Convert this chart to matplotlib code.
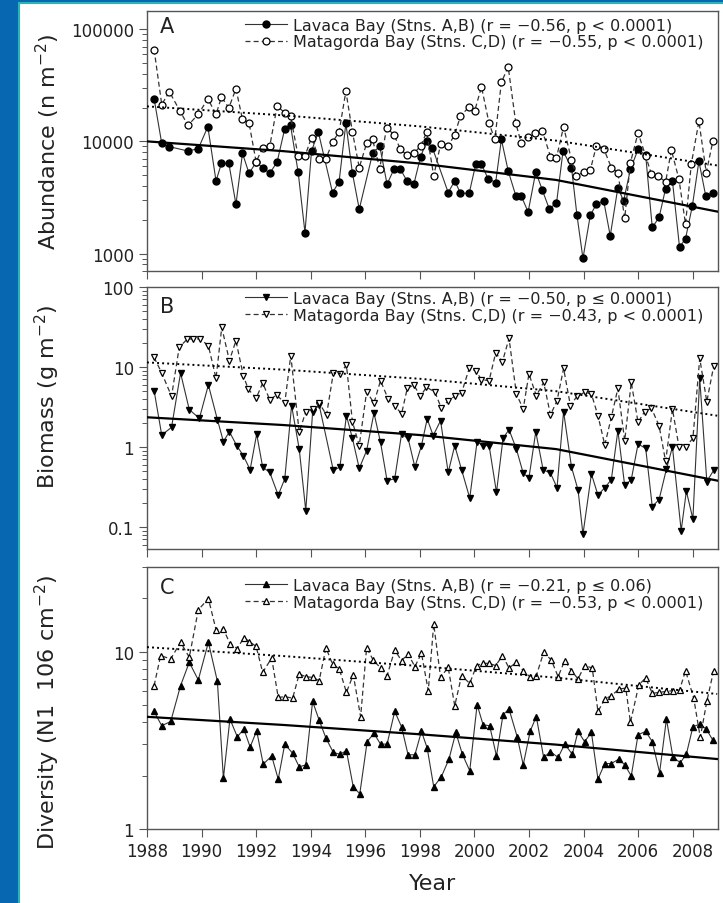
import numpy as np
import matplotlib
matplotlib.use('Agg')
import matplotlib.pyplot as plt
from matplotlib.patches import Rectangle
from matplotlib.ticker import LogLocator, NullFormatter

plt.rcParams['font.family'] = 'DejaVu Sans'

# ---- Panel A: abundance (n m-2) ----
yrA_lav = [1988.26, 1988.54, 1988.82, 1989.50, 1989.88, 1990.23, 1990.53, 1990.73, 1991.00, 1991.26,
           1991.50, 1991.74, 1992.00, 1992.24, 1992.50, 1992.77, 1993.05, 1993.26, 1993.54, 1993.79,
           1994.03, 1994.28, 1994.80, 1995.04, 1995.29, 1995.53, 1995.78, 1996.27, 1996.53, 1996.80,
           1997.05, 1997.29, 1997.53, 1997.78, 1998.03, 1998.25,
           1998.46, 1999.04, 1999.28, 1999.49, 1999.81, 2000.05, 2000.26, 2000.50, 2000.78, 2000.99,
           2001.24, 2001.52, 2001.72, 2001.97, 2002.25, 2002.49, 2002.74, 2003.01, 2003.25, 2003.56,
           2003.76, 2003.98, 2004.25, 2004.47, 2004.74, 2004.98, 2005.26, 2005.47, 2005.72, 2006.00,
           2006.28, 2006.52, 2006.77, 2007.01, 2007.26, 2007.52, 2007.74, 2007.99, 2008.23, 2008.48,
           2008.74]
abA_lav = [24000, 9600, 8970, 8200, 8610, 13500, 4440, 6370, 6370, 2750,
           7820, 5200, 6500, 5840, 5200, 6550, 13000, 13900, 5330, 1540,
           8200, 12100, 3500, 4350, 14450, 5200, 2490, 7820, 9080, 4150,
           5640, 5640, 4440, 4150, 7310, 10000,
           8800, 3500, 4440, 3450, 3450, 6250, 6250, 4660, 4300, 10400,
           5450, 3270, 3250, 2350, 5330, 3690, 2520, 2810, 8200, 5840,
           2200, 906, 2200, 2750, 2950, 1440, 3870, 2950, 5640, 8490,
           7500, 1710, 2100, 3800, 4440, 1140, 1360, 2660, 6650, 3270,
           3450]
yrA_mat = [1988.26, 1988.54, 1988.82, 1989.21, 1989.50, 1989.88, 1990.23, 1990.53, 1990.73, 1991.00,
           1991.26, 1991.50, 1991.74, 1992.00, 1992.24, 1992.50, 1992.77, 1993.05, 1993.26, 1993.54,
           1993.79, 1994.03, 1994.31, 1994.56, 1994.80, 1995.04, 1995.29, 1995.53, 1995.78, 1996.05,
           1996.27, 1996.53, 1996.78, 1997.05, 1997.29, 1997.53, 1997.78, 1998.03, 1998.25,
           1998.51, 1998.76, 1999.04, 1999.28, 1999.49, 1999.81, 2000.01, 2000.26, 2000.54, 2000.75,
           2000.99, 2001.24, 2001.52, 2001.72, 2001.97, 2002.21, 2002.49, 2002.79, 2003.01, 2003.27,
           2003.56, 2003.74, 2004.01, 2004.25, 2004.47, 2004.74, 2005.02, 2005.26, 2005.51, 2005.72,
           2006.00, 2006.28, 2006.49, 2006.73, 2007.01, 2007.22, 2007.50, 2007.74, 2007.95, 2008.23,
           2008.50, 2008.74]
abA_mat = [65800, 21300, 27700, 18600, 13900, 17400, 24000, 17400, 24800, 19900,
           29400, 15700, 14600, 6550, 8800, 9080, 20600, 18000, 16800, 7400,
           7400, 10800, 7000, 7000, 9860, 12100, 28000, 12100, 5840, 9600,
           10400, 5710, 13200, 11500, 8490, 7520, 7820, 9080, 12100,
           4920, 9400, 9080, 11500, 16800, 20300, 18600, 30600, 14450, 10400,
           33600, 46100, 14450, 9600, 11000, 11900, 12400, 7310, 7160, 13500,
           6820, 4920, 5330, 5560, 9080, 8610, 5840, 5270, 2060, 6470,
           11900, 7400, 5090, 4920, 4350, 8370, 4590, 1830, 6250, 15100,
           5270, 10000]

# ---- Panel B: biomass (g m-2) ----
yrB_lav = [1988.26, 1988.54, 1988.90, 1989.23, 1989.55, 1989.92, 1990.25, 1990.58, 1990.80, 1991.02,
           1991.29, 1991.53, 1991.78, 1992.02, 1992.24, 1992.50, 1992.81, 1993.05, 1993.30, 1993.58,
           1993.82, 1994.07, 1994.31, 1994.83, 1995.07, 1995.31, 1995.53, 1995.78, 1996.05, 1996.32,
           1996.56, 1996.80, 1997.08, 1997.33, 1997.57, 1997.82, 1998.06, 1998.27,
           1998.49, 1998.76, 1999.04, 1999.28, 1999.53, 1999.83, 2000.10, 2000.30, 2000.54, 2000.81,
           2001.05, 2001.27, 2001.54, 2001.79, 2002.00, 2002.25, 2002.52, 2002.79, 2003.03, 2003.27,
           2003.56, 2003.80, 2003.98, 2004.29, 2004.53, 2004.78, 2005.02, 2005.26, 2005.51, 2005.75,
           2006.00, 2006.28, 2006.52, 2006.77, 2007.04, 2007.26, 2007.58, 2007.77, 2008.01, 2008.26,
           2008.52, 2008.77]
bmB_lav = [5.06, 1.41, 1.76, 8.4, 2.93, 2.28, 5.96, 2.2, 1.17, 1.55,
           1.04, 0.78, 0.52, 1.45, 0.56, 0.48, 0.25, 0.4, 3.29, 0.94,
           0.16, 2.71, 3.35, 0.51, 0.56, 2.46, 1.28, 0.54, 0.9, 2.66,
           1.14, 0.38, 0.4, 1.45, 1.28, 0.56, 1.04, 2.24,
           1.39, 2.13, 0.48, 1.04, 0.52, 0.23, 1.17, 1.04, 1.04, 0.27,
           1.28, 1.65, 0.94, 0.47, 0.41, 1.55, 0.52, 0.47, 0.31, 2.77,
           0.56, 0.29, 0.081, 0.46, 0.25, 0.31, 0.39, 1.6, 0.33, 0.39,
           1.09, 0.96, 0.18, 0.22, 0.53, 1.0, 0.09, 0.28, 0.126, 7.2,
           0.37, 0.51]
yrB_mat = [1988.26, 1988.54, 1988.90, 1989.18, 1989.48, 1989.70, 1989.94, 1990.25, 1990.53, 1990.74,
           1991.02, 1991.26, 1991.53, 1991.71, 1992.00, 1992.24, 1992.50, 1992.75, 1993.05, 1993.27,
           1993.58, 1993.82, 1994.07, 1994.31, 1994.58, 1994.83, 1995.07, 1995.31, 1995.53, 1995.78,
           1996.05, 1996.32, 1996.56, 1996.84, 1997.08, 1997.33, 1997.54, 1997.78, 1998.02, 1998.24,
           1998.55, 1998.79, 1999.04, 1999.28, 1999.53, 1999.81, 2000.05, 2000.26, 2000.54, 2000.78,
           2001.03, 2001.27, 2001.54, 2001.79, 2002.00, 2002.27, 2002.54, 2002.79, 2003.03, 2003.27,
           2003.52, 2003.76, 2004.04, 2004.29, 2004.53, 2004.78, 2005.02, 2005.26, 2005.51, 2005.75,
           2006.00, 2006.24, 2006.49, 2006.77, 2007.01, 2007.26, 2007.50, 2007.74, 2008.01, 2008.26,
           2008.52, 2008.77]
bmB_mat = [13.2, 8.4, 4.3, 17.6, 22.4, 22.4, 22.4, 18.5, 7.2, 31.3,
           12.0, 21.3, 7.8, 5.3, 4.06, 6.3, 3.9, 4.47, 3.55, 13.9,
           1.52, 2.77, 2.98, 3.55, 2.51, 8.4, 8.2, 10.6, 2.07, 1.04,
           4.9, 3.55, 6.75, 3.98, 3.29, 2.59, 5.4, 5.96, 4.3, 5.57,
           4.9, 3.04, 3.8, 4.3, 4.73, 9.6, 9.0, 6.95, 6.75, 15.0,
           11.7, 22.8, 4.6, 2.98, 8.2, 4.38, 6.43, 2.51, 3.8, 9.6,
           3.29, 4.3, 4.82, 4.6, 2.46, 1.06, 2.35, 5.4, 1.2, 6.43,
           2.03, 2.77, 3.04, 1.85, 0.66, 2.98, 1.0, 1.0, 1.28, 12.8,
           3.69, 10.2]

# ---- Panel C: diversity (N1) ----
yrC_lav = [1988.26, 1988.54, 1988.87, 1989.23, 1989.55, 1989.88, 1990.25, 1990.58, 1990.80, 1991.04,
           1991.31, 1991.55, 1991.78, 1992.02, 1992.26, 1992.57, 1992.81, 1993.05, 1993.34, 1993.58,
           1993.82, 1994.07, 1994.31, 1994.56, 1994.83, 1995.07, 1995.31, 1995.56, 1995.80, 1996.07,
           1996.32, 1996.56, 1996.80, 1997.08, 1997.33, 1997.57, 1997.82, 1998.06, 1998.27,
           1998.51, 1998.79, 1999.07, 1999.32, 1999.56, 1999.83, 2000.10, 2000.32, 2000.56, 2000.81,
           2001.05, 2001.27, 2001.57, 2001.79, 2002.05, 2002.27, 2002.54, 2002.79, 2003.07, 2003.31,
           2003.59, 2003.80, 2004.04, 2004.29, 2004.53, 2004.78, 2005.02, 2005.30, 2005.51, 2005.75,
           2006.00, 2006.28, 2006.52, 2006.79, 2007.04, 2007.28, 2007.55, 2007.77, 2008.01, 2008.26,
           2008.50, 2008.74]
dvC_lav = [4.6, 3.82, 4.04, 6.43, 8.7, 6.92, 11.3, 6.8, 1.93, 4.17,
           3.31, 3.66, 2.9, 3.58, 2.32, 2.58, 1.91, 3.01, 2.67, 2.24,
           2.3, 5.24, 4.11, 3.25, 2.7, 2.64, 2.76, 1.73, 1.58, 3.11,
           3.46, 3.01, 3.01, 4.6, 3.77, 2.62, 2.62, 3.55, 2.86,
           1.73, 1.97, 2.48, 3.5, 2.64, 2.13, 5.02, 3.87, 3.82, 2.58,
           4.41, 4.74, 3.31, 2.3, 3.58, 4.3, 2.53, 2.73, 2.53, 3.01,
           2.64, 3.55, 3.11, 3.5, 1.91, 2.34, 2.34, 2.48, 2.3, 1.99,
           3.4, 3.55, 3.11, 2.08, 4.17, 2.53, 2.37, 2.64, 3.77, 3.9,
           3.66, 3.17]
yrC_mat = [1988.26, 1988.50, 1988.87, 1989.23, 1989.55, 1989.88, 1990.25, 1990.53, 1990.80, 1991.04,
           1991.31, 1991.55, 1991.75, 1992.00, 1992.24, 1992.57, 1992.81, 1993.05, 1993.34, 1993.58,
           1993.82, 1994.07, 1994.31, 1994.56, 1994.80, 1995.05, 1995.31, 1995.56, 1995.83, 1996.05,
           1996.29, 1996.56, 1996.80, 1997.08, 1997.33, 1997.57, 1997.82, 1998.06, 1998.31,
           1998.51, 1998.76, 1999.04, 1999.28, 1999.53, 1999.83, 2000.08, 2000.30, 2000.54, 2000.78,
           2001.03, 2001.27, 2001.54, 2001.79, 2002.03, 2002.27, 2002.54, 2002.82, 2003.07, 2003.31,
           2003.56, 2003.80, 2004.04, 2004.32, 2004.53, 2004.78, 2005.02, 2005.30, 2005.55, 2005.72,
           2006.03, 2006.28, 2006.52, 2006.77, 2007.04, 2007.28, 2007.52, 2007.74, 2008.04, 2008.28,
           2008.52, 2008.77]
dvC_mat = [6.43, 9.49, 9.1, 11.3, 9.29, 17.2, 19.9, 13.3, 13.4, 11.1,
           10.4, 12.0, 11.4, 10.7, 7.64, 9.2, 5.52, 5.57, 5.47, 7.48,
           7.22, 7.16, 6.86, 10.5, 8.51, 7.98, 5.89, 7.41, 4.3, 10.5,
           8.97, 8.09, 7.32, 10.2, 8.9, 9.7, 8.23, 9.79, 6.02,
           14.3, 7.16, 8.15, 4.95, 7.32, 6.62, 8.34, 8.59, 8.59, 8.34,
           9.49, 8.09, 8.7, 7.81, 7.22, 7.32, 9.9, 8.97, 7.22, 8.9,
           7.81, 7.01, 8.34, 8.09, 4.6, 5.4, 5.64, 6.15, 6.23, 3.99,
           6.51, 7.1, 5.82, 5.89, 5.97, 6.02, 6.07, 7.81, 5.47, 3.28,
           5.24, 7.81]

# regression lines, read at a few years
trend_yr = [1988.0, 1993.0, 1998.0, 2003.0, 2008.9]
trendA_lav = [10000, 8180, 6350, 4530, 2370]
trendA_mat = [20500, 17050, 13600, 10150, 6100]
trendB_lav = [2.35, 1.88, 1.41, 0.94, 0.38]
trendB_mat = [11.4, 9.26, 7.12, 4.98, 2.46]
trendC_lav = [4.29, 3.86, 3.42, 2.99, 2.48]
trendC_mat = [10.6, 9.44, 8.29, 7.13, 5.77]

year_ticks = list(range(1988, 2009, 2))

W, H = 723, 904
fig = plt.figure(figsize=(W / 100, H / 100), dpi=100, facecolor='#0767b1')
fig.add_artist(Rectangle((19 / W, -0.01), 1.0, 1 - 4 / H + 0.01, transform=fig.transFigure,
                         facecolor='white', edgecolor='#2bb3b5', lw=1.5, zorder=0))

L, R = 147, 718
def px_axes(top, bottom):
    return fig.add_axes([L / W, 1 - bottom / H, (R - L) / W, (bottom - top) / H])

axA = px_axes(12, 272)
axB = px_axes(288, 550)
axC = px_axes(568, 830)

spine_c = '#555555'
txt_c = '#222222'


def panel(ax, yl, vl, ym, vm, tl, tm, mk, ylim, yt, ytl, ylabel, ylab_y, letter, letter_y,
          lab_l, lab_m, leg_y):
    hl, = ax.plot(yl, vl, color='#333333', lw=0.8, marker=mk, ms=5, mfc='black', mec='black',
                  label=lab_l, zorder=3)
    hm, = ax.plot(ym, vm, color='#333333', lw=0.9, ls=(0, (4, 2.5)), marker=mk, ms=5,
                  mfc='white', mec='black', mew=0.9, label=lab_m, zorder=4)
    ax.plot(trend_yr, tl, color='black', lw=1.6, zorder=5)
    ax.plot(trend_yr, tm, color='black', lw=1.4, ls=(0, (1, 1.6)), zorder=5)
    ax.set_yscale('log')
    ax.set_ylim(*ylim)
    ax.set_xlim(1988, 2008.93)
    ax.set_yticks(yt)
    ax.set_yticklabels(ytl)
    ax.yaxis.set_minor_locator(LogLocator(base=10, subs=np.arange(2, 10), numticks=20))
    ax.yaxis.set_minor_formatter(NullFormatter())
    ax.set_xticks(year_ticks)
    ax.tick_params(axis='both', which='major', direction='out', length=6, width=0.8,
                   colors=spine_c, labelcolor=txt_c, labelsize=12)
    ax.tick_params(axis='y', which='minor', direction='out', length=3.5, width=0.7, colors=spine_c)
    for s in ax.spines.values():
        s.set_color(spine_c)
        s.set_linewidth(1.0)
    ax.set_ylabel(ylabel, fontsize=16, color=txt_c)
    ax.yaxis.set_label_coords(-0.148, ylab_y)
    ax.text(0.035, letter_y, letter, transform=ax.transAxes, fontsize=15, ha='center', va='center',
            color=txt_c)
    ax.legend(handles=[hl, hm], loc='upper left', bbox_to_anchor=(0.172, leg_y), frameon=False,
              fontsize=11.5, handlelength=2.6, handletextpad=0.4, labelspacing=0.1,
              borderpad=0, borderaxespad=0, labelcolor=txt_c)


panel(axA, yrA_lav, abA_lav, yrA_mat, abA_mat, trendA_lav, trendA_mat, 'o',
      (700, 145000), [1000, 10000, 100000], ['1000', '10000', '100000'],
      'Abundance (n m$^{-2}$)', 0.5, 'A', 0.942,
      'Lavaca Bay (Stns. A,B) (r = \u22120.56, p < 0.0001)',
      'Matagorda Bay (Stns. C,D) (r = \u22120.55, p < 0.0001)', 0.975)
panel(axB, yrB_lav, bmB_lav, yrB_mat, bmB_mat, trendB_lav, trendB_mat, 'v',
      (0.053, 100), [0.1, 1, 10, 100], ['0.1', '1', '10', '100'],
      'Biomass (g m$^{-2}$)', 0.585, 'B', 0.927,
      'Lavaca Bay (Stns. A,B) (r = \u22120.50, p \u2264 0.0001)',
      'Matagorda Bay (Stns. C,D) (r = \u22120.43, p < 0.0001)', 0.985)
panel(axC, yrC_lav, dvC_lav, yrC_mat, dvC_mat, trendC_lav, trendC_mat, '^',
      (1, 30), [1, 10], ['1', '10'],
      'Diversity (N1  106 cm$^{-2}$)', 0.45, 'C', 0.924,
      'Lavaca Bay (Stns. A,B) (r = \u22120.21, p \u2264 0.06)',
      'Matagorda Bay (Stns. C,D) (r = \u22120.53, p < 0.0001)', 0.958)

axA.tick_params(axis='x', labelbottom=False)
axB.tick_params(axis='x', labelbottom=False)
axC.set_xticklabels([str(y) for y in year_ticks])
axC.set_xlabel('Year', fontsize=16, color=txt_c, labelpad=9)

fig.savefig('out.png', dpi=100, facecolor=fig.get_facecolor())
